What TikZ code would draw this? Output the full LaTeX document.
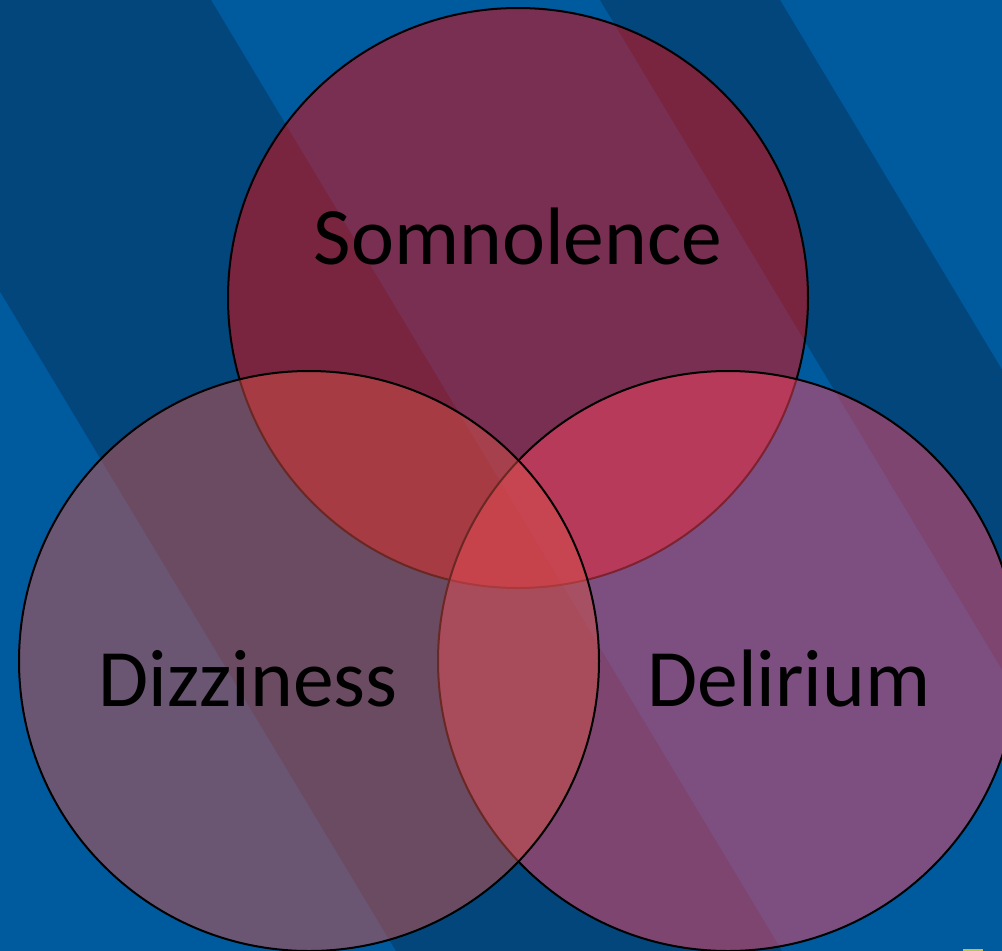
\documentclass[tikz,border=0pt]{standalone}
\usepackage{fontspec}
\setmainfont{Carlito}
\definecolor{bglight}{RGB}{0,90,158}
\definecolor{bgdark}{RGB}{2,70,124}
\definecolor{ctop}{RGB}{240,5,5}
\definecolor{cdel}{RGB}{248,69,99}
\definecolor{cdiz}{RGB}{212,81,72}
\definecolor{iconyel}{RGB}{200,190,70}
\begin{document}
\begin{tikzpicture}[x=1pt,y=-1pt,
  venn/.style={circle, minimum size=580pt, inner sep=0pt, draw=black, line width=2pt, fill opacity=0.5, draw opacity=1},
  vtext/.style={font=\fontsize{81.5}{98}\selectfont, text=black, anchor=base, inner sep=0pt}]
\useasboundingbox (0,0) rectangle (1002,951);
\clip (0,0) rectangle (1002,951);
\fill[bglight] (0,0) rectangle (1002,951);
\fill[bgdark] (-181,-10) -- (205,-10) -- (788,961) -- (402,961) -- cycle;
\fill[bgdark] (594,-10) -- (774,-10) -- (1357,961) -- (1177,961) -- cycle;
\fill[iconyel] (963,949) rectangle (983,951);
\node[venn, fill=ctop] (som) at (518,298) {};
\node[venn, fill=cdel] (del) at (728,661) {};
\node[venn, fill=cdiz] (diz) at (309,661) {};
\node[vtext] (tsom) at (518,264) {Somnolence};
\node[vtext] (tdiz) at (248,706) {Dizziness};
\node[vtext] (tdel) at (789,706) {Delirium};
\end{tikzpicture}
\end{document}
